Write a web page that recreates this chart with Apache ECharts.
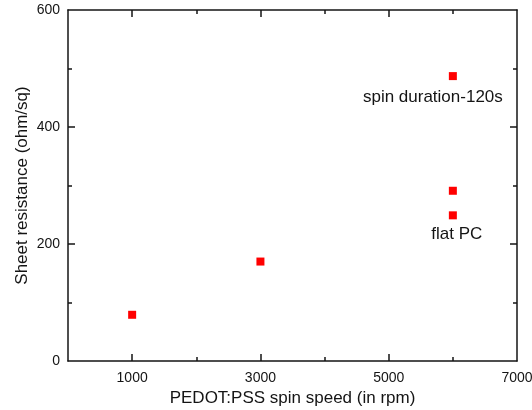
<!DOCTYPE html>
<html>
<head>
<meta charset="utf-8">
<script src="https://cdn.jsdelivr.net/npm/echarts@6/dist/echarts.min.js"></script>
<style>html,body{margin:0;padding:0;background:#fff}#c{width:532px;height:410px}</style>
</head>
<body>
<div id="c"></div>
<script>
const speeds = [1000, 3000, 6000, 6000, 6000];
const resistance = [79, 170, 487, 291, 249];
const annotations = ['', '', 'spin duration-120s', '', 'flat PC'];
const xMajorTicks = [1000, 3000, 5000];
const xMinorTicks = [2000, 4000, 6000];
const xTickLabels = [1000, 3000, 5000, 7000];
const yMajorTicks = [200, 400];
const yMinorTicks = [100, 300, 500];
const yTickLabels = [0, 200, 400, 600];
const xTitle = 'PEDOT:PSS spin speed (in rpm)';
const yTitle = 'Sheet resistance (ohm/sq)';

const FONT = 'Liberation Sans, Arial, sans-serif';
const INK = '#141414';
const lineStyle = { color: INK, width: 1.5 };
const plain = v => String(v);

function xAxisDef(pos, ticks, len, showLine, labels, name) {
  return {
    type: 'value', position: pos, min: 0, max: 7000, interval: 1000,
    axisLine: { show: showLine, onZero: false, lineStyle: lineStyle },
    axisTick: { show: true, inside: true, length: len, customValues: ticks, lineStyle: lineStyle },
    axisLabel: labels ? { show: true, customValues: labels, formatter: plain, fontSize: 14, color: INK, fontFamily: FONT, margin: 10 } : { show: false },
    splitLine: { show: false },
    name: name || '', nameLocation: 'middle', nameGap: 27,
    nameTextStyle: { fontSize: 17, color: INK, fontFamily: FONT }
  };
}
function yAxisDef(pos, ticks, len, showLine, labels, name) {
  return {
    type: 'value', position: pos, min: 0, max: 600, interval: 100,
    axisLine: { show: showLine, onZero: false, lineStyle: lineStyle },
    axisTick: { show: true, inside: true, length: len, customValues: ticks, lineStyle: lineStyle },
    axisLabel: labels ? { show: true, customValues: labels, formatter: plain, fontSize: 14, color: INK, fontFamily: FONT, margin: 8 } : { show: false },
    splitLine: { show: false },
    name: name || '', nameLocation: 'middle', nameGap: 37, nameMoveOverlap: false,
    nameTextStyle: { fontSize: 17, color: INK, fontFamily: FONT }
  };
}

const labelOffsets = { 2: [-20, 21], 4: [4, 19] };
const data = speeds.map((s, i) => {
  const item = { value: [s, resistance[i]] };
  if (annotations[i]) {
    item.label = {
      show: true, formatter: annotations[i], position: 'inside',
      offset: labelOffsets[i], fontSize: 17, color: INK, fontFamily: FONT
    };
  }
  return item;
});

const chart = echarts.init(document.getElementById('c'), null, { renderer: 'canvas' });
chart.setOption({
  animation: false,
  backgroundColor: '#fff',
  grid: { left: 68, right: 15, top: 10, bottom: 49, outerBoundsMode: 'none', containLabel: false },
  xAxis: [
    xAxisDef('bottom', xMajorTicks, 7, true, xTickLabels, xTitle),
    xAxisDef('bottom', xMinorTicks, 4, false, null),
    xAxisDef('top', xMajorTicks, 7, true, null),
    xAxisDef('top', xMinorTicks, 4, false, null)
  ],
  yAxis: [
    yAxisDef('left', yMajorTicks, 7, true, yTickLabels, yTitle),
    yAxisDef('left', yMinorTicks, 4, false, null),
    yAxisDef('right', yMajorTicks, 7, true, null),
    yAxisDef('right', yMinorTicks, 4, false, null)
  ],
  series: [{
    type: 'scatter', xAxisIndex: 0, yAxisIndex: 0,
    symbol: 'rect', symbolSize: 8,
    itemStyle: { color: '#ff0000', opacity: 1 },
    emphasis: { disabled: true },
    data: data
  }]
});
</script>
</body>
</html>
